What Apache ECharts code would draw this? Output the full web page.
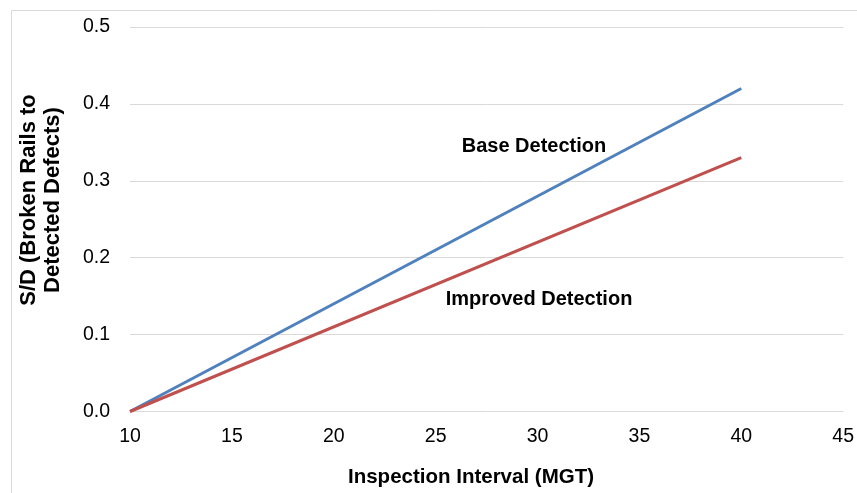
<!DOCTYPE html>
<html><head><meta charset="utf-8">
<script src="https://cdn.jsdelivr.net/npm/echarts@6/dist/echarts.min.js"></script>
<style>html,body{margin:0;padding:0;background:#fff}#c{width:857px;height:493px}</style>
</head><body><div id="c"></div>
<script>
var xValues = [10, 40];
var baseDetection = [0, 0.42];
var improvedDetection = [0, 0.33];
var xTicks = [10, 15, 20, 25, 30, 35, 40, 45];
var yTicks = [0, 0.1, 0.2, 0.3, 0.4, 0.5];

function pairs(xs, ys) { return xs.map(function (x, i) { return [x, ys[i]]; }); }

var chart = echarts.init(document.getElementById('c'));
var font = 'Liberation Sans, Arial, sans-serif';
chart.setOption({
  animation: false,
  grid: { left: 130, right: 9, top: 27, bottom: 81.5, containLabel: false },
  xAxis: {
    type: 'value', min: 10, max: 45, interval: 5,
    axisLine: { show: false }, axisTick: { show: false },
    splitLine: { show: false },
    axisLabel: { color: '#000', fontSize: 19.5, fontFamily: font, margin: 15 }
  },
  yAxis: {
    type: 'value', min: 0, max: 0.5, interval: 0.1,
    axisLine: { show: false }, axisTick: { show: false },
    splitLine: { show: true, lineStyle: { color: '#d9d9d9', width: 1 } },
    axisLabel: { color: '#000', fontSize: 19.5, fontFamily: font, margin: 20,
      formatter: function (v) { return v.toFixed(1); } }
  },
  graphic: [
    { type: 'rect', silent: true, z: -1, shape: { x: 11.5, y: 10.5, width: 900, height: 600 },
      style: { fill: 'none', stroke: '#d9d9d9', lineWidth: 1 } },
    { type: 'text', x: 471, y: 477, style: { text: 'Inspection Interval (MGT)', font: 'bold 20.5px ' + font,
      fill: '#000', align: 'center', verticalAlign: 'middle' } },
    { type: 'text', x: 41, y: 200, rotation: Math.PI / 2, style: { text: 'S/D (Broken Rails to\nDetected Defects)',
      font: 'bold 22px ' + font, fill: '#000', align: 'center', verticalAlign: 'middle', lineHeight: 24 } },
    { type: 'text', x: 534, y: 146, style: { text: 'Base Detection', font: 'bold 20px ' + font,
      fill: '#000', align: 'center', verticalAlign: 'middle' } },
    { type: 'text', x: 539, y: 299, style: { text: 'Improved Detection', font: 'bold 20px ' + font,
      fill: '#000', align: 'center', verticalAlign: 'middle' } }
  ],
  series: [
    { name: 'Base Detection', type: 'line', data: pairs(xValues, baseDetection), showSymbol: false,
      lineStyle: { color: '#4F81BD', width: 3 }, itemStyle: { color: '#4F81BD' } },
    { name: 'Improved Detection', type: 'line', data: pairs(xValues, improvedDetection), showSymbol: false,
      lineStyle: { color: '#C0504D', width: 3 }, itemStyle: { color: '#C0504D' } }
  ]
});
</script></body></html>
